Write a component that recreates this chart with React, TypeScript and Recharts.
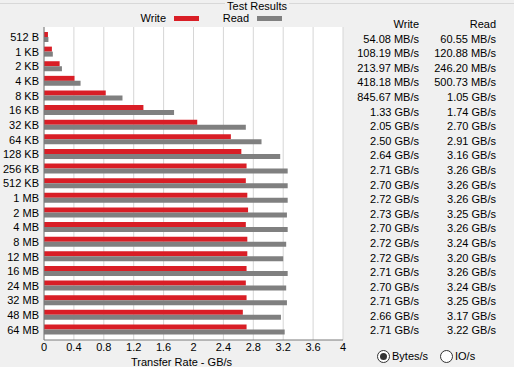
import React from 'react';
import { BarChart, Bar, XAxis, YAxis, CartesianGrid } from 'recharts';

// transfer sizes tested
const sizes = [
  '512 B', '1 KB', '2 KB', '4 KB', '8 KB', '16 KB', '32 KB', '64 KB', '128 KB', '256 KB', '512 KB',
  '1 MB', '2 MB', '4 MB', '8 MB', '12 MB', '16 MB', '24 MB', '32 MB', '48 MB', '64 MB',
];

// rates in GB/s (MB/s values divided by 1024)
const writeGBs = [
  0.0528, 0.1057, 0.209, 0.408, 0.826, 1.33, 2.05, 2.5, 2.64, 2.71, 2.7,
  2.72, 2.73, 2.7, 2.72, 2.72, 2.71, 2.7, 2.71, 2.66, 2.71,
];
const readGBs = [
  0.0591, 0.118, 0.24, 0.489, 1.05, 1.74, 2.7, 2.91, 3.16, 3.26, 3.26,
  3.26, 3.25, 3.26, 3.24, 3.2, 3.26, 3.24, 3.25, 3.17, 3.22,
];

const writeLabels = [
  '54.08 MB/s', '108.19 MB/s', '213.97 MB/s', '418.18 MB/s', '845.67 MB/s', '1.33 GB/s', '2.05 GB/s',
  '2.50 GB/s', '2.64 GB/s', '2.71 GB/s', '2.70 GB/s', '2.72 GB/s', '2.73 GB/s', '2.70 GB/s',
  '2.72 GB/s', '2.72 GB/s', '2.71 GB/s', '2.70 GB/s', '2.71 GB/s', '2.66 GB/s', '2.71 GB/s',
];
const readLabels = [
  '60.55 MB/s', '120.88 MB/s', '246.20 MB/s', '500.73 MB/s', '1.05 GB/s', '1.74 GB/s', '2.70 GB/s',
  '2.91 GB/s', '3.16 GB/s', '3.26 GB/s', '3.26 GB/s', '3.26 GB/s', '3.25 GB/s', '3.26 GB/s',
  '3.24 GB/s', '3.20 GB/s', '3.26 GB/s', '3.24 GB/s', '3.25 GB/s', '3.17 GB/s', '3.22 GB/s',
];

const xTicks = [0, 0.4, 0.8, 1.2, 1.6, 2, 2.4, 2.8, 3.2, 3.6, 4];

const RED = '#d91e26';
const GREY = '#808080';
const BORDER = '#7a7a7a';
const FONT = '"Liberation Sans", Arial, sans-serif';

const data = sizes.map((size, i) => ({ size, write: writeGBs[i], read: readGBs[i] }));

// single-line size label (the default tick wraps long labels)
const SizeTick = ({ x, y, payload }: any) => (
  <text x={x} y={y} dy="0.355em" textAnchor="end" fill="#000" fontSize={11} fontFamily={FONT}>
    {payload.value}
  </text>
);

const RadioButton = ({ checked, left, label }: { checked: boolean; left: number; label: string }) => (
  <div style={{ position: 'absolute', left, top: 349, display: 'flex', alignItems: 'center', height: 14 }}>
    <div
      style={{
        width: 11,
        height: 11,
        borderRadius: '50%',
        border: '1px solid #333',
        background: '#fff',
        display: 'flex',
        alignItems: 'center',
        justifyContent: 'center',
      }}
    >
      {checked && <div style={{ width: 7, height: 7, borderRadius: '50%', background: '#333' }} />}
    </div>
    <span style={{ marginLeft: 2 }}>{label}</span>
  </div>
);

const App: React.FC = () => {
  return (
    <div
      style={{
        position: 'absolute',
        left: 0,
        top: 0,
        width: 514,
        height: 367,
        background: '#f0f0f0',
        fontFamily: FONT,
        fontSize: 11,
        color: '#000',
        overflow: 'hidden',
      }}
    >
      {/* group box line + title */}
      <div style={{ position: 'absolute', left: 0, right: 0, top: 3, height: 1, background: '#d8d8d8' }} />
      <div style={{ position: 'absolute', left: 0, width: 514, top: 0, textAlign: 'center', lineHeight: '12px' }}>
        <span style={{ background: '#f0f0f0', padding: '0 2px' }}>Test Results</span>
      </div>

      {/* legend */}
      <div style={{ position: 'absolute', left: 100, width: 66, top: 12, textAlign: 'right', lineHeight: '13px' }}>Write</div>
      <div style={{ position: 'absolute', left: 174, top: 16, width: 25, height: 5, background: RED }} />
      <div style={{ position: 'absolute', left: 200, width: 49, top: 12, textAlign: 'right', lineHeight: '13px' }}>Read</div>
      <div style={{ position: 'absolute', left: 257, top: 16, width: 25, height: 5, background: GREY }} />

      <div style={{ position: 'absolute', left: 0, top: 0 }}>
        <BarChart
          width={514}
          height={367}
          data={data}
          layout="vertical"
          margin={{ top: 27, right: 171, bottom: 0, left: 4 }}
          barGap={0}
          style={{ fontFamily: FONT }}
        >
          <CartesianGrid horizontal={false} stroke="#d6d6d6" fill="#ffffff" />
          <XAxis
            type="number"
            domain={[0, 4]}
            ticks={xTicks}
            tickFormatter={(v) => String(v)}
            height={27}
            tickLine={false}
            tickSize={0}
            tickMargin={3}
            axisLine={{ stroke: BORDER }}
            tick={{ fill: '#000', fontSize: 11 }}
            interval={0}
            label={{ value: 'Transfer Rate - GB/s', position: 'insideBottom', offset: 1, dx: -12, fill: '#000', fontSize: 11 }}
          />
          <XAxis
            xAxisId="top"
            orientation="top"
            type="number"
            domain={[0, 4]}
            height={0}
            tick={false}
            tickLine={false}
            axisLine={{ stroke: BORDER }}
          />
          <YAxis
            type="category"
            dataKey="size"
            width={40}
            padding={{ top: 3, bottom: 3 }}
            tickLine={false}
            tickSize={0}
            tickMargin={5}
            interval={0}
            axisLine={{ stroke: BORDER }}
            tick={<SizeTick />}
          />
          <YAxis
            yAxisId="right"
            orientation="right"
            type="category"
            dataKey="size"
            width={0}
            tick={false}
            tickLine={false}
            axisLine={{ stroke: BORDER }}
          />
          <Bar dataKey="write" fill={RED} barSize={5} isAnimationActive={false} />
          <Bar dataKey="read" fill={GREY} barSize={5} isAnimationActive={false} />
        </BarChart>
      </div>

      {/* result table */}
      <div style={{ position: 'absolute', left: 340, width: 79, top: 17, textAlign: 'right', lineHeight: '14.6px' }}>
        <div>Write</div>
        {writeLabels.map((t, i) => (
          <div key={i}>{t}</div>
        ))}
      </div>
      <div style={{ position: 'absolute', left: 420, width: 76, top: 17, textAlign: 'right', lineHeight: '14.6px' }}>
        <div>Read</div>
        {readLabels.map((t, i) => (
          <div key={i}>{t}</div>
        ))}
      </div>

      <RadioButton checked left={377} label="Bytes/s" />
      <RadioButton checked={false} left={440} label="IO/s" />
    </div>
  );
};

export default App;
